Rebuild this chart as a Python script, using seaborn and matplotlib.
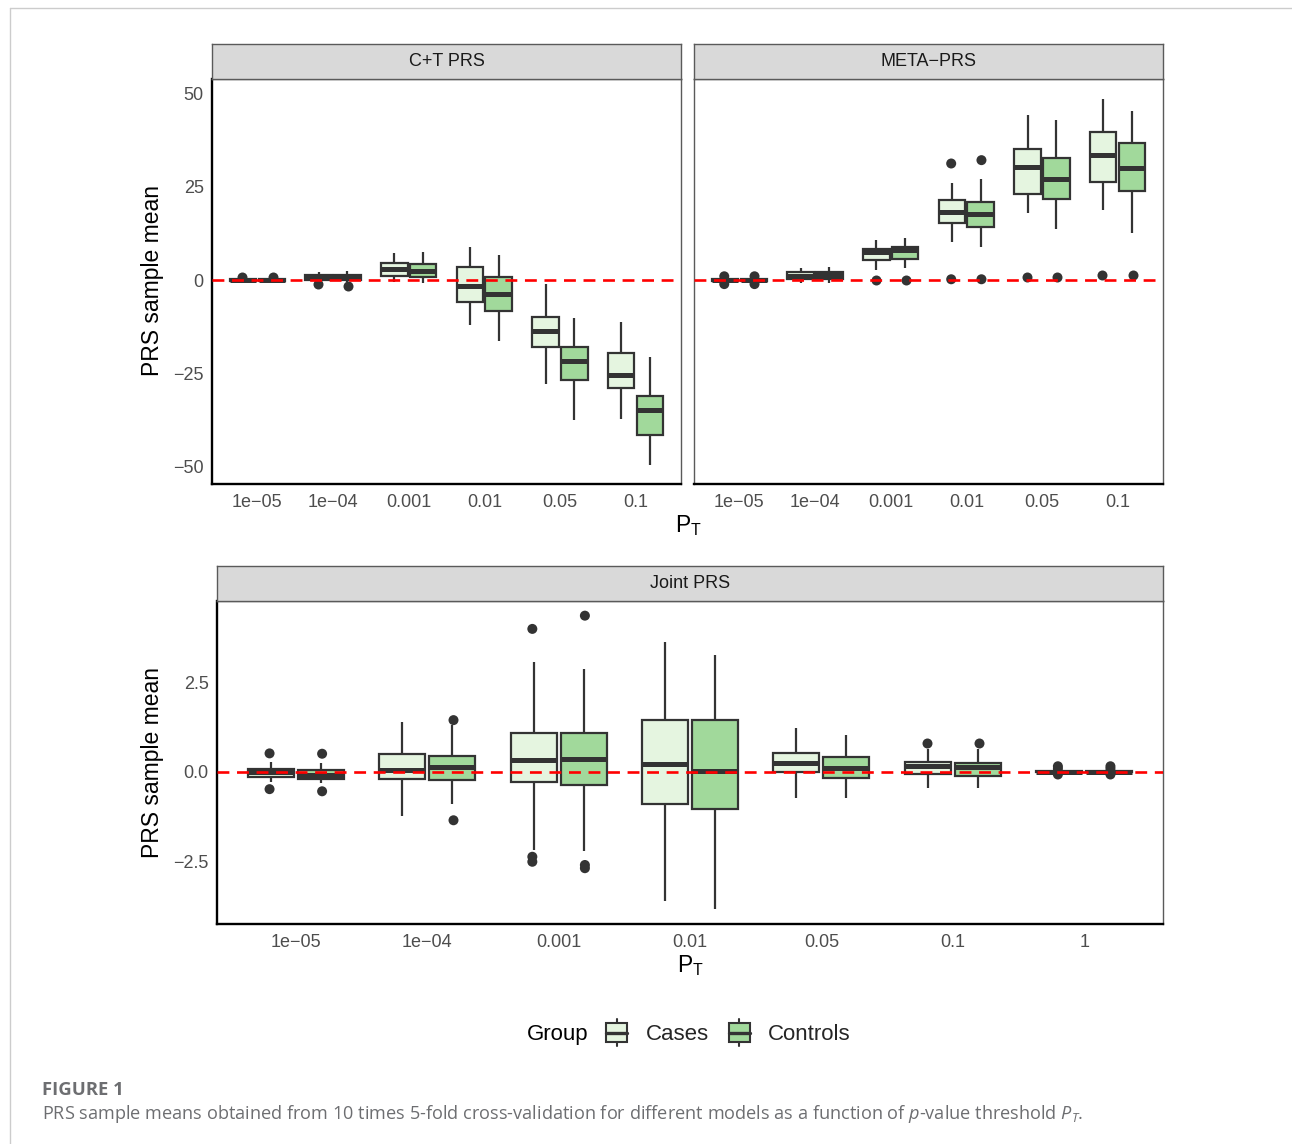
import numpy as np
import pandas as pd
import matplotlib
matplotlib.use("Agg")
import matplotlib.pyplot as plt
from matplotlib.legend_handler import HandlerBase
from matplotlib.patches import Rectangle, Patch
from matplotlib.lines import Line2D
import seaborn as sns

GROUPS = ["Cases", "Controls"]
COLORS = {"Cases": "#E5F5E0", "Controls": "#A1D99B"}
EDGE = "#333333"

top_thresholds = ["1e-05", "1e-04", "0.001", "0.01", "0.05", "0.1"]
joint_thresholds = ["1e-05", "1e-04", "0.001", "0.01", "0.05", "0.1", "1"]

# box summaries: lower whisker, Q1, median, Q3, upper whisker
# C+T PRS
ct_cases_lo = [-0.6, -0.4, -0.6, -12.1, -28.0, -37.4]
ct_cases_q1 = [-0.3, 0.0, 1.1, -5.8, -18.0, -29.0]
ct_cases_med = [0.1, 0.6, 2.9, -1.6, -13.6, -25.6]
ct_cases_q3 = [0.4, 1.3, 4.5, 3.4, -9.9, -19.7]
ct_cases_hi = [0.6, 2.2, 7.2, 8.8, -1.0, -11.2]
ct_cases_out = [[0.9], [-1.2], [], [], [], []]

ct_controls_lo = [-0.6, -0.4, -0.7, -16.3, -37.7, -49.8]
ct_controls_q1 = [-0.3, -0.1, 0.9, -8.4, -26.9, -41.6]
ct_controls_med = [0.0, 0.5, 2.4, -3.8, -21.8, -35.0]
ct_controls_q3 = [0.4, 1.3, 4.2, 0.9, -18.0, -31.1]
ct_controls_hi = [0.6, 2.3, 7.5, 6.7, -10.3, -20.6]
ct_controls_out = [[0.8], [-1.5], [], [], [], []]

# META-PRS
meta_cases_lo = [-0.4, -0.8, 2.6, 10.3, 18.0, 18.9]
meta_cases_q1 = [-0.2, 0.3, 5.4, 15.2, 23.1, 26.3]
meta_cases_med = [0.0, 1.2, 7.5, 18.2, 30.4, 33.7]
meta_cases_q3 = [0.2, 2.15, 8.4, 21.4, 35.1, 39.8]
meta_cases_hi = [0.4, 3.2, 10.7, 26.1, 44.2, 48.7]
meta_cases_out = [[1.0, -1.1], [], [0.0], [31.3, 0.2], [0.7], [1.3]]

meta_controls_lo = [-0.4, -0.8, 3.1, 8.8, 13.6, 12.6]
meta_controls_q1 = [-0.2, 0.3, 5.6, 14.3, 21.8, 23.8]
meta_controls_med = [0.0, 1.3, 8.0, 17.8, 27.2, 30.1]
meta_controls_q3 = [0.2, 2.2, 8.8, 20.9, 32.9, 36.8]
meta_controls_hi = [0.4, 3.4, 11.4, 27.1, 42.9, 45.4]
meta_controls_out = [[1.0, -1.1], [], [0.0], [32.2, 0.2], [0.7], [1.3]]

# Joint PRS
joint_cases_lo = [-0.28, -1.24, -2.19, -3.63, -0.73, -0.45, -0.03]
joint_cases_q1 = [-0.16, -0.21, -0.30, -0.91, -0.01, -0.07, -0.02]
joint_cases_med = [0.0, 0.05, 0.32, 0.22, 0.23, 0.16, 0.0]
joint_cases_q3 = [0.07, 0.48, 1.09, 1.43, 0.53, 0.27, 0.03]
joint_cases_hi = [0.28, 1.38, 3.06, 3.61, 1.21, 0.62, 0.04]
joint_cases_out = [[0.51, -0.49], [], [3.99, -2.38, -2.52], [], [], [0.8],
                   [0.15, 0.08, -0.08]]

joint_controls_lo = [-0.33, -0.91, -2.22, -3.84, -0.73, -0.45, -0.03]
joint_controls_q1 = [-0.20, -0.23, -0.37, -1.05, -0.18, -0.12, -0.02]
joint_controls_med = [-0.09, 0.12, 0.35, 0.03, 0.11, 0.14, 0.0]
joint_controls_q3 = [0.05, 0.43, 1.09, 1.43, 0.41, 0.24, 0.03]
joint_controls_hi = [0.23, 1.29, 2.86, 3.27, 1.03, 0.62, 0.04]
joint_controls_out = [[0.50, -0.55], [1.44, -1.36], [4.36, -2.61, -2.70], [], [],
                      [0.8], [0.15, 0.08, -0.08]]


def long_frames(thresholds, stats):
    rows, out_rows = [], []
    for group, (lo, q1, med, q3, hi, out) in stats.items():
        for i, t in enumerate(thresholds):
            for v in (lo[i], q1[i], med[i], q3[i], hi[i]):
                rows.append((t, group, v))
            for v in out[i]:
                out_rows.append((t, group, v))
    cols = ["P_T", "Group", "value"]
    return pd.DataFrame(rows, columns=cols), pd.DataFrame(out_rows, columns=cols)


ct_box, ct_out = long_frames(top_thresholds, {
    "Cases": (ct_cases_lo, ct_cases_q1, ct_cases_med, ct_cases_q3, ct_cases_hi, ct_cases_out),
    "Controls": (ct_controls_lo, ct_controls_q1, ct_controls_med, ct_controls_q3,
                 ct_controls_hi, ct_controls_out),
})
meta_box, meta_out = long_frames(top_thresholds, {
    "Cases": (meta_cases_lo, meta_cases_q1, meta_cases_med, meta_cases_q3, meta_cases_hi,
              meta_cases_out),
    "Controls": (meta_controls_lo, meta_controls_q1, meta_controls_med, meta_controls_q3,
                 meta_controls_hi, meta_controls_out),
})
joint_box, joint_out = long_frames(joint_thresholds, {
    "Cases": (joint_cases_lo, joint_cases_q1, joint_cases_med, joint_cases_q3,
              joint_cases_hi, joint_cases_out),
    "Controls": (joint_controls_lo, joint_controls_q1, joint_controls_med, joint_controls_q3,
                 joint_controls_hi, joint_controls_out),
})

sns.set_theme(style="white")
plt.rcParams["font.family"] = ["Liberation Sans", "DejaVu Sans"]
plt.rcParams["mathtext.fontset"] = "custom"
plt.rcParams["mathtext.it"] = "Open Sans:italic"
plt.rcParams["mathtext.rm"] = "Open Sans"

W, H = 1292, 1144


def rect(x0, y0, x1, y1):
    return [x0 / W, 1 - y1 / H, (x1 - x0) / W, (y1 - y0) / H]


def draw_panel(ax, thresholds, box_df, out_df, ylim, show_y=True):
    sns.boxplot(data=box_df, x="P_T", y="value", hue="Group", order=thresholds,
                hue_order=GROUPS, palette=COLORS, saturation=1, width=0.76, gap=0.08,
                whis=np.inf, linecolor=EDGE, linewidth=1.6, showfliers=False,
                showcaps=False, medianprops=dict(linewidth=3.6, color=EDGE),
                legend=False, ax=ax)
    sns.stripplot(data=out_df, x="P_T", y="value", hue="Group", order=thresholds,
                  hue_order=GROUPS, palette={g: EDGE for g in GROUPS}, dodge=True,
                  jitter=False, size=7.2, linewidth=0, legend=False, ax=ax, zorder=4)
    ax.axhline(0, color="red", linestyle=(0, (4.5, 2.9)), linewidth=1.9, zorder=10)
    ax.set_xlim(-0.6, len(thresholds) - 0.4)
    ax.set_ylim(*ylim)
    ax.set_xticks(range(len(thresholds)))
    ax.set_xticklabels([t.replace("-", "\u2212") for t in thresholds])
    ax.set_xlabel("")
    ax.set_ylabel("")
    ax.tick_params(axis="both", length=2.9, width=1, color=EDGE, labelcolor="#4D4D4D",
                   labelsize=13)
    ax.tick_params(axis="x", pad=4)
    ax.tick_params(axis="y", pad=3)
    for side in ["top", "right"]:
        ax.spines[side].set_color("#5a5a5a")
        ax.spines[side].set_linewidth(1.0)
    ax.spines["bottom"].set_color("black")
    ax.spines["bottom"].set_linewidth(1.7)
    if show_y:
        ax.spines["left"].set_color("black")
        ax.spines["left"].set_linewidth(1.7)
    else:
        ax.spines["left"].set_color("#5a5a5a")
        ax.spines["left"].set_linewidth(1.0)
        ax.tick_params(axis="y", left=False, labelleft=False)


def strip(fig, r, label):
    sax = fig.add_axes(r)
    sax.set_facecolor("#D9D9D9")
    sax.set_xticks([])
    sax.set_yticks([])
    for sp in sax.spines.values():
        sp.set_color("#5a5a5a")
        sp.set_linewidth(1.0)
    sax.text(0.5, 0.5, label, ha="center", va="center", fontsize=13, color="#1A1A1A",
             transform=sax.transAxes)


class BoxKey(HandlerBase):
    def create_artists(self, legend, orig_handle, xdescent, ydescent, width, height,
                       fontsize, trans):
        cx = -xdescent + width / 2
        cy = -ydescent + height / 2
        bw, bh, wh = 15, 13.5, 19.5
        box = Rectangle((cx - bw / 2, cy - bh / 2), bw, bh,
                        facecolor=orig_handle.get_facecolor(), edgecolor=EDGE, lw=1.5,
                        transform=trans)
        med = Line2D([cx - bw / 2, cx + bw / 2], [cy, cy], color=EDGE, lw=2.4,
                     transform=trans)
        up = Line2D([cx, cx], [cy + bh / 2, cy + wh / 2], color=EDGE, lw=1.5,
                    transform=trans)
        down = Line2D([cx, cx], [cy - bh / 2, cy - wh / 2], color=EDGE, lw=1.5,
                      transform=trans)
        return [up, down, box, med]


fig = plt.figure(figsize=(W / 100, H / 100), dpi=100)

ax_ct = fig.add_axes(rect(212, 79, 681, 484))
ax_meta = fig.add_axes(rect(694, 79, 1163, 484))
ax_joint = fig.add_axes(rect(217, 601, 1163, 924))

top_ylim = (-54.8, 54.0)
draw_panel(ax_ct, top_thresholds, ct_box, ct_out, top_ylim)
draw_panel(ax_meta, top_thresholds, meta_box, meta_out, top_ylim, show_y=False)
draw_panel(ax_joint, joint_thresholds, joint_box, joint_out, (-4.26, 4.77))

ax_ct.set_yticks([-50, -25, 0, 25, 50])
ax_ct.set_yticklabels(["\u221250", "\u221225", "0", "25", "50"])
ax_meta.set_yticks([-50, -25, 0, 25, 50])
ax_joint.set_yticks([-2.5, 0, 2.5])
ax_joint.set_yticklabels(["\u22122.5", "0.0", "2.5"])

strip(fig, rect(212, 44, 681, 79), "C+T PRS")
strip(fig, rect(694, 44, 1163, 79), "META\u2212PRS")
strip(fig, rect(217, 566, 1163, 601), "Joint PRS")

fig.text(152 / W, 1 - 281 / H, "PRS sample mean", rotation=90, ha="center", va="center",
         fontsize=16.5, color="black")
fig.text(152 / W, 1 - 762 / H, "PRS sample mean", rotation=90, ha="center", va="center",
         fontsize=16.5, color="black")
fig.text(688 / W, 1 - 526 / H, r"$\mathregular{P_T}$", ha="center", va="center",
         fontsize=16.5, color="black")
fig.text(690 / W, 1 - 966 / H, r"$\mathregular{P_T}$", ha="center", va="center",
         fontsize=16.5, color="black")

# legend
fig.text(527 / W, 1 - 1032 / H, "Group", ha="left", va="center_baseline", fontsize=16,
         color="black")
fig.legend(handles=[Patch(facecolor=COLORS[g]) for g in GROUPS], labels=GROUPS,
           handler_map={Patch: BoxKey()}, ncol=2, frameon=False, fontsize=16,
           loc="center left", bbox_to_anchor=(603 / W, 1 - 1035 / H), handlelength=1.25,
           handletextpad=0.68, columnspacing=0.73, borderpad=0, borderaxespad=0)

# page frame and caption
fig.add_artist(Line2D([10 / W, 10 / W], [0, 1 - 8 / H], transform=fig.transFigure,
                      color="#cccccc", lw=1))
fig.add_artist(Line2D([10 / W, 1], [1 - 8 / H, 1 - 8 / H], transform=fig.transFigure,
                      color="#cccccc", lw=1))
fig.text(42 / W, 1 - 1090 / H, "FIGURE 1", fontfamily="Open Sans", fontweight="bold",
         fontsize=13.3, color="#6d6e71", ha="left", va="center")
fig.text(42 / W, 1 - 1114 / H,
         "PRS sample means obtained from 10 times 5-fold cross-validation for different "
         "models as a function of $p$-value threshold $P_T$.",
         fontfamily="Open Sans", fontsize=13.1, color="#6d6e71", ha="left", va="center")

fig.savefig("out.png", dpi=100)
